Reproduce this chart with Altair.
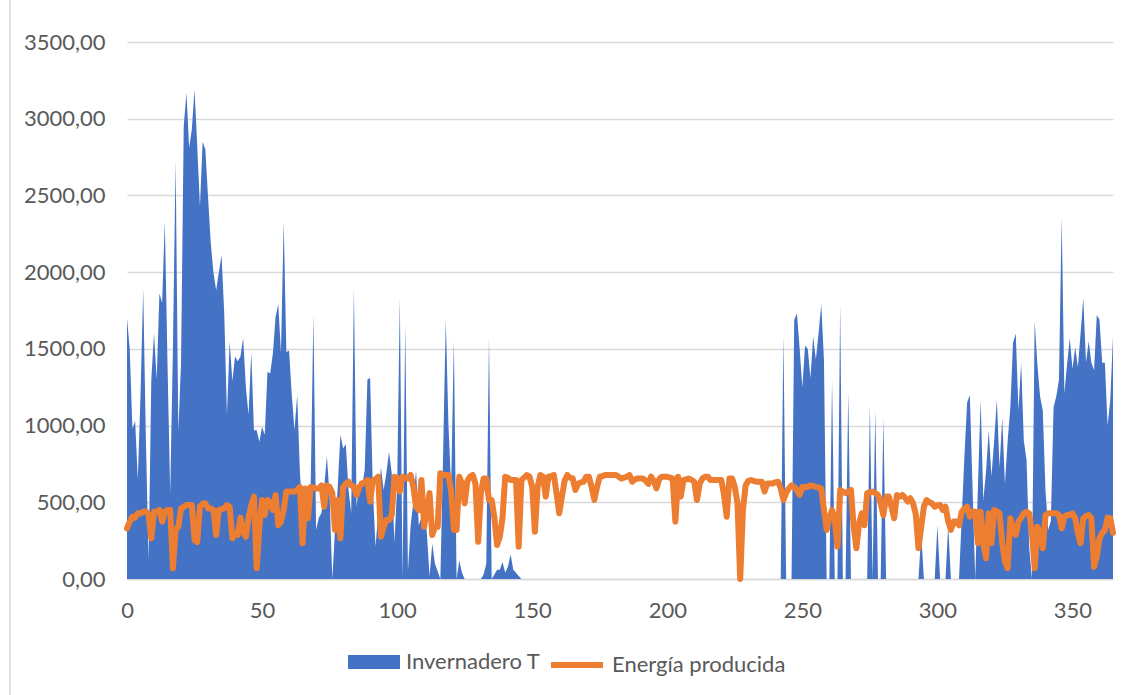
import altair as alt
import pandas as pd

# Day of year (x axis)
DAYS = list(range(366))

# Daily demand series "Invernadero T" (blue area)
INVERNADERO_T = [
    1700, 1500, 980, 1030, 650, 1200, 1890, 900, 120, 1300,
    1600, 1300, 1860, 1800, 2330, 1400, 560, 1500, 2730, 960,
    1400, 2950, 3170, 2810, 2930, 3190, 2820, 2430, 2850, 2800,
    2490, 2190, 2000, 1880, 2000, 2110, 1730, 1070, 1550, 1290,
    1450, 1420, 1450, 1570, 1250, 1070, 1480, 970, 970, 895,
    990, 940, 1350, 1340, 1470, 1710, 1790, 1470, 2330, 1480,
    1490, 1200, 970, 1200, 700, 400, 300, 500, 600, 1720,
    320, 400, 430, 600, 800, 540, 0, 320, 600, 940,
    850, 880, 580, 430, 1895, 470, 640, 600, 710, 1300,
    1310, 590, 210, 430, 730, 580, 690, 830, 690, 240,
    600, 1830, 0, 1660, 50, 350, 500, 710, 350, 400,
    470, 300, 20, 230, 100, 50, 0, 800, 1690, 1000,
    600, 1560, 0, 120, 40, 0, 0, 0, 0, 0,
    0, 0, 30, 100, 1580, 0, 30, 60, 60, 110,
    40, 80, 160, 60, 40, 20, 0, 0, 0, 0,
    0, 0, 0, 0, 0, 0, 0, 0, 0, 0,
    0, 0, 0, 0, 0, 0, 0, 0, 0, 0,
    0, 0, 0, 0, 0, 0, 0, 0, 0, 0,
    0, 0, 0, 0, 0, 0, 0, 0, 0, 0,
    0, 0, 0, 0, 0, 0, 0, 0, 0, 0,
    0, 0, 0, 0, 0, 0, 0, 0, 0, 0,
    0, 0, 0, 0, 0, 0, 0, 0, 0, 0,
    0, 0, 0, 0, 0, 0, 0, 0, 0, 0,
    0, 0, 0, 0, 0, 0, 0, 0, 0, 0,
    0, 0, 0, 1590, 0, 0, 0, 1690, 1730, 1500,
    1250, 1520, 1500, 1310, 1580, 1430, 1600, 1790, 1430, 0,
    0, 1300, 0, 0, 1790, 0, 0, 1220, 0, 0,
    0, 0, 0, 0, 0, 1130, 0, 1100, 0, 0,
    1050, 0, 0, 0, 0, 0, 0, 0, 0, 0,
    0, 0, 0, 0, 300, 0, 0, 0, 0, 0,
    350, 0, 0, 0, 350, 0, 0, 0, 0, 400,
    800, 1150, 1200, 600, 0, 600, 1170, 515, 700, 970,
    670, 900, 1170, 730, 1050, 620, 900, 1120, 1540, 1600,
    1100, 1410, 900, 775, 200, 0, 1680, 1400, 1190, 1100,
    580, 320, 380, 1120, 1190, 1300, 2360, 1210, 1400, 1570,
    1370, 1510, 1380, 1600, 1830, 1410, 1550, 1410, 1360, 1720,
    1690, 1410, 1410, 1000, 1170, 1580,
]

# Daily "Energía producida" (orange line)
ENERGIA_PRODUCIDA = [
    330, 374, 406, 400, 428, 428, 438, 440, 420, 265,
    438, 440, 450, 374, 440, 450, 450, 70, 320, 340,
    460, 471, 482, 482, 482, 254, 240, 471, 490, 493,
    460, 460, 450, 287, 450, 455, 460, 482, 471, 265,
    300, 287, 400, 308, 275, 400, 480, 537, 70, 340,
    515, 417, 515, 500, 450, 548, 350, 374, 450, 570,
    570, 570, 570, 580, 600, 233, 590, 396, 600, 595,
    590, 590, 610, 471, 610, 600, 560, 320, 515, 265,
    600, 620, 634, 610, 600, 548, 600, 622, 630, 645,
    504, 645, 650, 667, 276, 340, 385, 385, 417, 667,
    660, 570, 667, 660, 655, 678, 600, 471, 450, 645,
    340, 450, 560, 287, 340, 340, 689, 680, 678, 678,
    570, 320, 320, 667, 620, 493, 640, 667, 678, 620,
    243, 560, 655, 655, 515, 515, 400, 222, 275, 396,
    667, 660, 645, 645, 645, 211, 645, 660, 678, 667,
    600, 308, 600, 678, 667, 537, 667, 670, 678, 560,
    428, 537, 640, 678, 660, 655, 580, 620, 630, 634,
    667, 667, 600, 515, 600, 667, 670, 678, 678, 678,
    678, 678, 667, 655, 660, 667, 678, 634, 650, 655,
    655, 655, 640, 620, 667, 640, 590, 650, 667, 667,
    667, 660, 655, 374, 667, 537, 645, 650, 655, 645,
    634, 515, 620, 655, 667, 667, 645, 645, 645, 645,
    645, 550, 406, 655, 655, 600, 493, 0, 450, 610,
    640, 645, 640, 634, 634, 634, 570, 622, 622, 622,
    630, 634, 590, 515, 560, 590, 610, 600, 580, 548,
    600, 600, 600, 610, 605, 600, 595, 590, 450, 320,
    400, 450, 385, 211, 580, 570, 560, 570, 580, 340,
    200, 360, 428, 350, 560, 565, 570, 560, 548, 493,
    417, 537, 537, 470, 396, 548, 537, 548, 530, 504,
    526, 493, 420, 200, 340, 471, 515, 500, 493, 471,
    480, 482, 450, 471, 374, 320, 374, 374, 350, 438,
    460, 471, 406, 440, 438, 233, 438, 233, 135, 428,
    233, 450, 440, 428, 233, 113, 70, 396, 320, 287,
    374, 400, 428, 438, 428, 300, 70, 340, 308, 200,
    417, 428, 428, 428, 428, 417, 330, 406, 417, 417,
    428, 396, 300, 233, 396, 410, 417, 396, 80, 145,
    265, 300, 320, 400, 396, 300,
]

SERIES_AREA = "Invernadero T"
SERIES_LINE = "Energía producida"
X_TICKS = [0, 50, 100, 150, 200, 250, 300, 350]
Y_TICKS = [0, 500, 1000, 1500, 2000, 2500, 3000, 3500]

assert len(INVERNADERO_T) == len(DAYS) == len(ENERGIA_PRODUCIDA)

df = pd.DataFrame({
    "dia": DAYS,
    "invernadero": INVERNADERO_T,
    "energia": ENERGIA_PRODUCIDA,
    "serie_area": SERIES_AREA,
    "serie_linea": SERIES_LINE,
})

FONT = "Lato"
TEXT = "#595959"
GRID = "#D9D9D9"
BLUE = "#4472C4"
ORANGE = "#ED7D31"
FS = 22

x_enc = alt.X(
    "dia:Q",
    scale=alt.Scale(domain=[0, 365], nice=False, zero=False),
    axis=alt.Axis(
        values=X_TICKS, title=None, grid=False, ticks=False,
        domainColor=GRID, domainWidth=1.5, labelFlush=False,
        labelPadding=21, labelFontSize=FS, labelColor=TEXT, labelFont=FONT,
    ),
)
y_scale = alt.Scale(domain=[0, 3500], nice=False)
y_axis = alt.Axis(
    values=Y_TICKS, title=None, domain=False, ticks=False,
    gridColor=GRID, gridWidth=1.5,
    labelExpr="replace(format(datum.value, '.2f'), '.', ',')",
    labelPadding=22, labelFontSize=FS, labelColor=TEXT, labelFont=FONT,
)

base = alt.Chart(df)

area = base.mark_area(interpolate="linear").encode(
    x=x_enc,
    y=alt.Y("invernadero:Q", scale=y_scale, axis=y_axis),
    fill=alt.Fill(
        "serie_area:N",
        scale=alt.Scale(domain=[SERIES_AREA], range=[BLUE]),
        legend=alt.Legend(
            title=None, orient="none", legendX=221, legendY=594, padding=0,
            symbolType="M-1,-0.27H1V0.27H-1Z", symbolSize=2704,
            symbolStrokeWidth=0, symbolOpacity=1,
            labelFontSize=FS, labelFont=FONT, labelColor=TEXT, labelOffset=6,
            labelLimit=0,
        ),
    ),
)

line = base.mark_line(
    strokeWidth=6, strokeCap="round", strokeJoin="round", interpolate="linear"
).encode(
    x=x_enc,
    y=alt.Y("energia:Q", scale=y_scale, axis=y_axis),
    stroke=alt.Stroke(
        "serie_linea:N",
        scale=alt.Scale(domain=[SERIES_LINE], range=[ORANGE]),
        legend=alt.Legend(
            title=None, orient="none", legendX=421, legendY=594, padding=0,
            symbolType="stroke", symbolSize=2704, symbolStrokeWidth=6,
            labelFontSize=FS, labelFont=FONT, labelColor=TEXT, labelOffset=6,
            labelLimit=0,
        ),
    ),
)

# Thin chart-area frame line on the left edge
frame = alt.Chart(pd.DataFrame({"k": [0]})).mark_rule(
    color=GRID, strokeWidth=1.5
).encode(
    x=alt.value(-117), y=alt.value(-42), y2=alt.value(653)
)

chart = (
    alt.layer(area, line, frame)
    .properties(
        width=986,
        height=537,
        autosize=alt.AutoSizeParams(type="none"),
        padding={"left": 127, "top": 42, "right": 22, "bottom": 116},
        background="white",
    )
    .configure_view(stroke=None)
)

chart.save("out.html", embed_options={"renderer": "svg", "actions": False})
